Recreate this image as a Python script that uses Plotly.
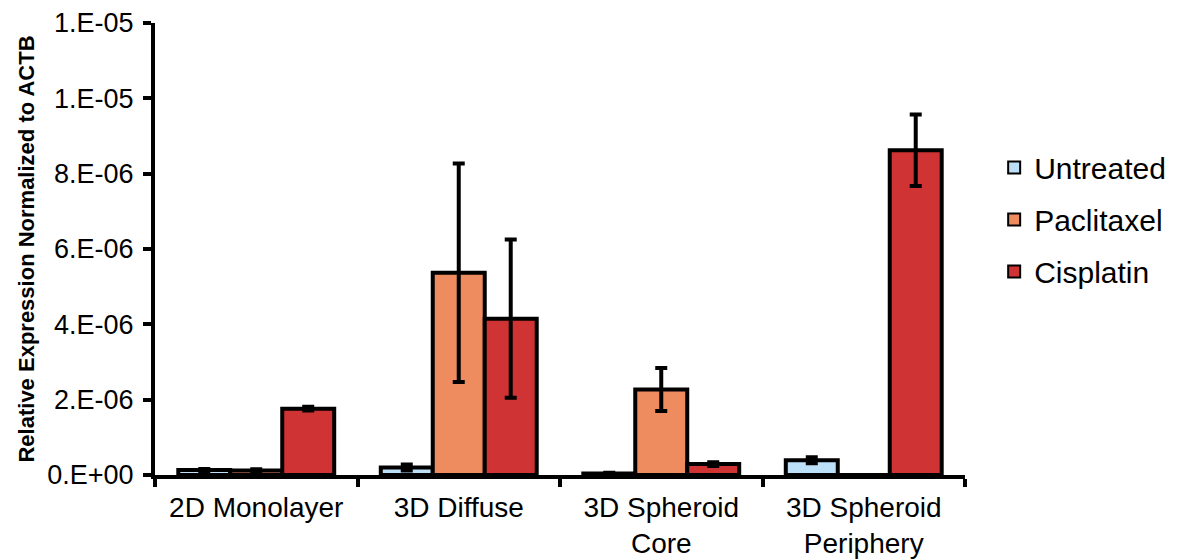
import plotly.graph_objects as go

categories = ["2D Monolayer", "3D Diffuse", "3D Spheroid<br>Core", "3D Spheroid<br>Periphery"]
untreated = [0.13e-6, 0.20e-6, 0.04e-6, 0.39e-6]
untreated_err = [0.03e-6, 0.08e-6, 0.02e-6, 0.08e-6]
paclitaxel = [0.12e-6, 5.37e-6, 2.27e-6, 0.0]
paclitaxel_err = [0.03e-6, 2.90e-6, 0.57e-6, 0.0]
cisplatin = [1.76e-6, 4.15e-6, 0.29e-6, 8.62e-6]
cisplatin_err = [0.05e-6, 2.10e-6, 0.05e-6, 0.95e-6]

tick_vals = [0, 2e-6, 4e-6, 6e-6, 8e-6, 1e-5, 1.2e-5]
tick_text = ["0.E+00", "2.E-06", "4.E-06", "6.E-06", "8.E-06", "1.E-05", "1.E-05"]

series = [
    ("Untreated", untreated, untreated_err, "#BCE0F7"),
    ("Paclitaxel", paclitaxel, paclitaxel_err, "#EE8B5F"),
    ("Cisplatin", cisplatin, cisplatin_err, "#D03333"),
]

fig = go.Figure()
for name, vals, errs, color in series:
    fig.add_trace(go.Bar(
        name=name, x=categories, y=vals, legendgroup=name,
        marker=dict(color=color, line=dict(color="black", width=4)),
        error_y=dict(type="data", array=errs, visible=True, color="black",
                     thickness=4, width=6),
    ))

fig.update_layout(
    width=1169, height=551,
    margin=dict(l=147, r=212, t=15, b=84, autoexpand=False),
    barmode="group", bargap=0.23, bargroupgap=0,
    plot_bgcolor="white", paper_bgcolor="white",
    font=dict(family="Liberation Sans, Arial, sans-serif", color="black", size=28),
    showlegend=True,
    legend=dict(x=1.036, y=0.565, xanchor="left", yanchor="middle",
                font=dict(size=30), itemsizing="constant", tracegroupgap=10),
    xaxis=dict(showline=True, linecolor="black", linewidth=4, ticks="outside",
               tickson="boundaries", ticklen=8, tickwidth=4, tickcolor="black",
               tickfont=dict(size=28), automargin=False, ticklabelstandoff=4,
               ticklabeloverflow="allow"),
    yaxis=dict(range=[0, 1.2e-5], showline=True, linecolor="black", linewidth=4,
               ticks="outside", ticklen=8, tickwidth=4, tickcolor="black",
               tickvals=tick_vals, ticktext=tick_text, showgrid=False,
               zeroline=False, tickfont=dict(size=27), automargin=False,
               ticklabelstandoff=4, ticklabeloverflow="allow",
               title=dict(text="<b>Relative Expression Normalized to ACTB</b>",
                          font=dict(size=22), standoff=8)),
)

fig.write_html("out.html")
